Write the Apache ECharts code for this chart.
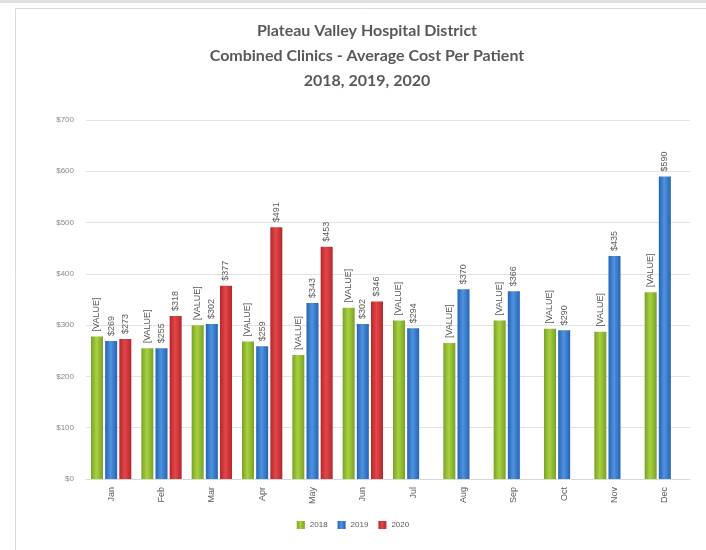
<!DOCTYPE html>
<html>
<head>
<meta charset="utf-8">
<script src="https://cdn.jsdelivr.net/npm/echarts@6/dist/echarts.min.js"></script>
<style>html,body{margin:0;padding:0;background:#fff;}#c{width:706px;height:550px;}</style>
</head>
<body>
<div id="c"></div>
<script>
var categories = ['Jan','Feb','Mar','Apr','May','Jun','Jul','Aug','Sep','Oct','Nov','Dec'];
var seriesNames = ['2018','2019','2020'];
var values2018 = [278,255,300,268,242,334,309,265,309,293,287,364];
var values2019 = [269,255,302,259,343,302,294,370,366,290,435,590];
var values2020 = [273,318,377,491,453,346];
var yTicks = [0,100,200,300,400,500,600,700];

function grad(dark, light){
  return new echarts.graphic.LinearGradient(0,0,1,0,[
    {offset:0,color:dark},{offset:0.45,color:light},{offset:1,color:dark}
  ]);
}
var labelBase = {show:true, position:'top', rotate:90, align:'left', verticalAlign:'middle', distance:5, color:'#595959', fontSize:9, fontFamily:'Liberation Sans'};

var chart = echarts.init(document.getElementById('c'));
chart.setOption({
  backgroundColor:'#fff',
  animation:false,
  title:{
    text:'Plateau Valley Hospital District\nCombined Clinics - Average Cost Per Patient\n2018, 2019, 2020',
    left:362, top:13,
    textAlign:'center',
    textStyle:{fontFamily:'Lato', fontWeight:'bold', fontSize:16, color:'#595959', lineHeight:25}
  },
  legend:{
    bottom:16, left:'center', itemWidth:8, itemHeight:8, itemGap:10,
    icon:'rect',
    textStyle:{fontSize:8, color:'#595959'},
    data:seriesNames
  },
  grid:{left:86, right:16, top:120, bottom:71},
  xAxis:{
    type:'category', data:categories,
    axisLine:{lineStyle:{color:'#d9d9d9'}},
    axisTick:{show:false},
    axisLabel:{rotate:90, fontSize:9, color:'#595959', margin:8}
  },
  yAxis:{
    type:'value', min:0, max:700, interval:100,
    axisLine:{show:false}, axisTick:{show:false},
    splitLine:{lineStyle:{color:'#e3e3e3'}},
    axisLabel:{fontSize:8, color:'#8a8a8a', margin:12, formatter:function(v){return yTicks.indexOf(v)>=0 ? '$'+v : '';}}
  },
  series:[
    {name:seriesNames[0], type:'bar', data:values2018, barWidth:12, barGap:'18%',
     itemStyle:{color:grad('#77a22a','#a9d13e')},
     label:Object.assign({}, labelBase, {formatter:'[VALUE]'})},
    {name:seriesNames[1], type:'bar', data:values2019, barWidth:12, barGap:'18%',
     itemStyle:{color:grad('#2463b4','#4f93df')},
     label:Object.assign({}, labelBase, {formatter:function(p){return '$'+p.value;}})},
    {name:seriesNames[2], type:'bar', data:values2020, barWidth:12, barGap:'18%',
     itemStyle:{color:grad('#b8252a','#e2474a')},
     label:Object.assign({}, labelBase, {formatter:function(p){return '$'+p.value;}})}
  ],
  color:['#8dbb33','#3579cc','#d0353a'],
  graphic:[
    {type:'rect', shape:{x:15.5,y:8.5,width:720,height:560}, style:{fill:'none', stroke:'#d9d9d9', lineWidth:1}, silent:true},
    {type:'rect', shape:{x:0,y:0,width:706,height:3}, style:{fill:'#e0e0e0'}, silent:true}
  ]
});
</script>
</body>
</html>
